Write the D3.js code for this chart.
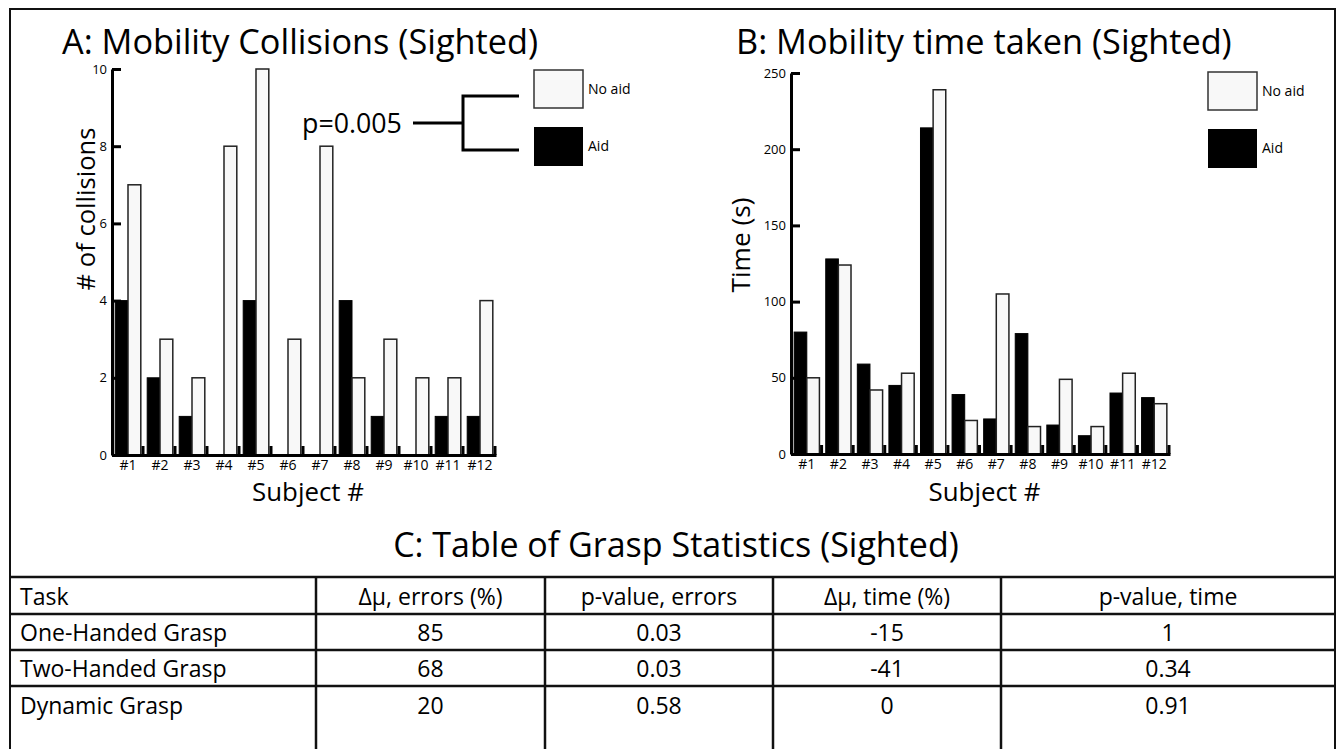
<!DOCTYPE html>
<html>
<head>
<meta charset="UTF-8">
<title>Sighted mobility and grasp</title>
<script src="https://cdn.jsdelivr.net/npm/d3@7"></script>
<style>
  body { margin: 0; background: #fff; }
  svg text { font-family: "Open Sans", "Noto Sans", sans-serif; fill: #000; }
</style>
</head>
<body>
<svg id="svg" width="1337" height="749"></svg>
<script>
// data
var subjects = ['#1','#2','#3','#4','#5','#6','#7','#8','#9','#10','#11','#12'];
var collisionsAid   = [4, 2, 1, 0, 4, 0, 0, 4, 1, 0, 1, 1];
var collisionsNoAid = [7, 3, 2, 8, 10, 3, 8, 2, 3, 2, 2, 4];
var timeAid   = [80, 128, 59, 45, 214, 39, 23, 79, 19, 12, 40, 37];
var timeNoAid = [50, 124, 42, 53, 239, 22, 105, 18, 49, 18, 53, 33];
var collisionTicks = [0, 2, 4, 6, 8, 10];
var timeTicks = [0, 50, 100, 150, 200, 250];

var tableHeader = ['Task', 'Δμ, errors (%)', 'p-value, errors', 'Δμ, time (%)', 'p-value, time'];
var tasks      = ['One-Handed Grasp', 'Two-Handed Grasp', 'Dynamic Grasp'];
var dErrors    = ['85', '68', '20'];
var pErrors    = ['0.03', '0.03', '0.58'];
var dTime      = ['-15', '-41', '0'];
var pTime      = ['1', '0.34', '0.91'];

var svg = d3.select('#svg');

// shrink/grow font so text spans a given width
function fit(sel, w) {
  var fs = parseFloat(sel.style('font-size'));
  var len = sel.node().getComputedTextLength();
  sel.style('font-size', (fs * w / len) + 'px');
  return sel;
}

// outer frame
svg.append('rect')
  .attr('x', 10).attr('y', 9)
  .attr('width', 1325).attr('height', 760)
  .attr('fill', 'none').attr('stroke', '#111').attr('stroke-width', 2);

// panel titles share one size, taken from B's width
var titleB = svg.append('text').attr('x', 736).attr('y', 54)
  .style('font-size', '30px').text('B: Mobility time taken (Sighted)');
fit(titleB, 496);
svg.append('text').attr('x', 62).attr('y', 54)
  .style('font-size', titleB.style('font-size')).text('A: Mobility Collisions (Sighted)');

function barChart(opt) {
  var g = svg.append('g');
  var x = d3.scaleBand().domain(subjects).range(opt.xr).paddingInner(0).paddingOuter(0);
  var x1 = d3.scaleBand().domain(['aid', 'noaid']).range([0, x.bandwidth()])
    .paddingInner(0).paddingOuter(0.25);
  var y = d3.scaleLinear().domain(opt.domain).range(opt.yr);

  var groups = g.selectAll('g.grp').data(subjects).enter().append('g')
    .attr('class', 'grp')
    .attr('transform', function(d) { return 'translate(' + x(d) + ',0)'; });

  groups.append('rect')
    .attr('x', x1('aid'))
    .attr('width', x1.bandwidth())
    .attr('y', function(d, i) { return y(opt.aid[i]); })
    .attr('height', function(d, i) { return y(0) - y(opt.aid[i]); })
    .attr('fill', '#000').attr('stroke', '#000').attr('stroke-width', 1);

  groups.append('rect')
    .attr('x', x1('noaid'))
    .attr('width', x1.bandwidth())
    .attr('y', function(d, i) { return y(opt.noaid[i]); })
    .attr('height', function(d, i) { return y(0) - y(opt.noaid[i]); })
    .attr('fill', '#f8f8f8').attr('stroke', '#222').attr('stroke-width', 1.5);

  // y axis, ticks pointing inward
  var ya = g.append('g')
    .attr('transform', 'translate(' + opt.xr[0] + ',0)')
    .call(d3.axisLeft(y).tickValues(opt.ticks).tickSizeInner(-9).tickSizeOuter(0).tickPadding(5));
  ya.select('.domain').attr('stroke', '#000').attr('stroke-width', 3);
  ya.selectAll('.tick line').attr('stroke', '#000').attr('stroke-width', 3);
  ya.selectAll('.tick text').style('font-size', '13px')
    .style('font-family', '"Open Sans", sans-serif');

  // x axis with labels under each group
  var xa = g.append('g')
    .attr('transform', 'translate(0,' + y(0) + ')')
    .call(d3.axisBottom(x).tickSize(0).tickPadding(5));
  xa.select('.domain').attr('stroke', '#000').attr('stroke-width', 3);
  xa.selectAll('.tick text').style('font-size', '14px')
    .style('font-family', '"Open Sans", sans-serif');

  // little separator marks at group boundaries
  g.selectAll('line.sep').data(subjects).enter().append('line')
    .attr('class', 'sep')
    .attr('x1', function(d) { return x(d) + x.bandwidth() - 1; })
    .attr('x2', function(d) { return x(d) + x.bandwidth() - 1; })
    .attr('y1', y(0)).attr('y2', y(0) - 9)
    .attr('stroke', '#000').attr('stroke-width', 3);

  var yl = g.append('text')
    .attr('transform', 'translate(' + opt.ylab[1] + ',' + opt.ylab[2] + ')rotate(-90)')
    .attr('text-anchor', 'middle').attr('dominant-baseline', 'central')
    .style('font-size', '24px').text(opt.ylab[0]);
  fit(yl, opt.ylab[3]);

  var xl = g.append('text')
    .attr('x', (opt.xr[0] + opt.xr[1]) / 2 + 4).attr('y', 501)
    .attr('text-anchor', 'middle')
    .style('font-size', '22px').text('Subject #');
  fit(xl, 112);

  // legend
  var lg = g.append('g').attr('transform', 'translate(' + opt.leg[0] + ',' + opt.leg[1] + ')');
  lg.append('rect').attr('x', 0).attr('y', 0).attr('width', 49).attr('height', 38)
    .attr('fill', '#f8f8f8').attr('stroke', '#333').attr('stroke-width', 1.5);
  lg.append('rect').attr('x', 0).attr('y', 57).attr('width', 49).attr('height', 39)
    .attr('fill', '#000');
  lg.append('text').attr('x', 54).attr('y', 24).style('font-size', '14px').text('No aid');
  lg.append('text').attr('x', 54).attr('y', 81).style('font-size', '14px').text('Aid');

  return g;
}

var gA = barChart({
  xr: [112, 496], yr: [455, 69], domain: [0, 10], ticks: collisionTicks,
  aid: collisionsAid, noaid: collisionsNoAid,
  ylab: ['# of collisions', 85, 209, 163],
  leg: [534, 70]
});

var gB = barChart({
  xr: [791, 1170], yr: [454, 73], domain: [0, 250], ticks: timeTicks,
  aid: timeAid, noaid: timeNoAid,
  ylab: ['Time (s)', 740, 245, 95],
  leg: [1208, 72]
});

// significance bracket on chart A
var p = gA.append('text').attr('x', 302).attr('y', 133)
  .style('font-size', '26px').text('p=0.005');
fit(p, 100);
var br = d3.path();
br.moveTo(413, 123); br.lineTo(463, 123);
br.moveTo(519, 96); br.lineTo(463, 96); br.lineTo(463, 150); br.lineTo(519, 150);
gA.append('path').attr('d', br.toString())
  .attr('fill', 'none').attr('stroke', '#000').attr('stroke-width', 3);

// table C
var tc = svg.append('text').attr('x', 676).attr('y', 557)
  .attr('text-anchor', 'middle').style('font-size', '30px')
  .text('C: Table of Grasp Statistics (Sighted)');
fit(tc, 566);

var colEdges = [11, 316, 545, 773, 1001, 1335];
var rowEdges = [577, 614, 650, 686, 749];
var rows = [tableHeader].concat(tasks.map(function(t, i) {
  return [t, dErrors[i], pErrors[i], dTime[i], pTime[i]];
}));

var tbl = svg.append('g');
tbl.selectAll('line.h').data(rowEdges.slice(0, 4)).enter().append('line')
  .attr('x1', 11).attr('x2', 1335)
  .attr('y1', function(d) { return d; }).attr('y2', function(d) { return d; })
  .attr('stroke', '#111').attr('stroke-width', 2.5);
tbl.selectAll('line.v').data(colEdges.slice(1, 5)).enter().append('line')
  .attr('y1', 577).attr('y2', 749)
  .attr('x1', function(d) { return d; }).attr('x2', function(d) { return d; })
  .attr('stroke', '#111').attr('stroke-width', 2.5);

rows.forEach(function(r, ri) {
  var cy = (rowEdges[ri] + Math.min(rowEdges[ri + 1], rowEdges[ri] + 37)) / 2;
  r.forEach(function(txt, ci) {
    var first = ci === 0;
    tbl.append('text')
      .attr('x', first ? colEdges[0] + 9 : (colEdges[ci] + colEdges[ci + 1]) / 2)
      .attr('y', cy)
      .attr('dominant-baseline', 'central')
      .attr('text-anchor', first ? 'start' : 'middle')
      .style('font-size', '23px')
      .text(txt);
  });
});
</script>
</body>
</html>
